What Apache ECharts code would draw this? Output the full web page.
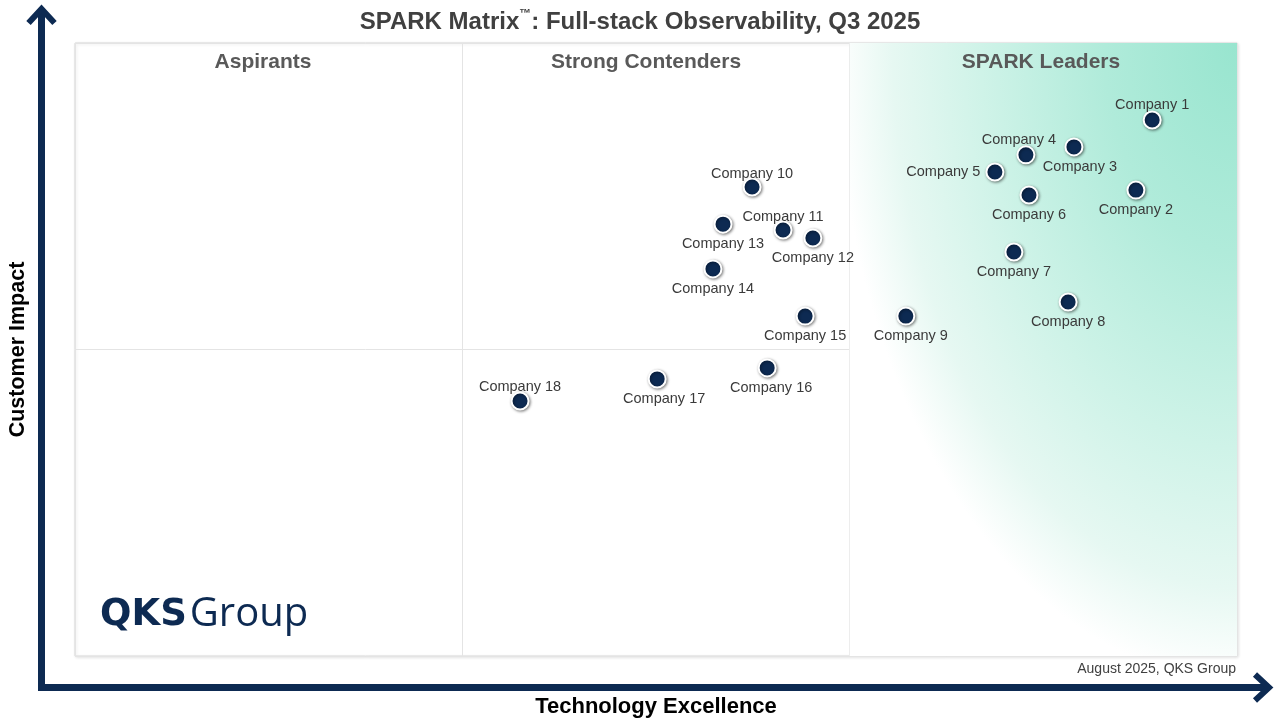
<!DOCTYPE html>
<html><head><meta charset="utf-8">
<script src="https://cdn.jsdelivr.net/npm/echarts@6/dist/echarts.min.js"></script>
<style>html,body{margin:0;padding:0;background:#fff}#c{width:1280px;height:720px}</style>
</head><body><div id="c"></div>
<script>
// ---- data ----
const companies = ['Company 1','Company 2','Company 3','Company 4','Company 5','Company 6','Company 7','Company 8','Company 9',
  'Company 10','Company 11','Company 12','Company 13','Company 14','Company 15','Company 16','Company 17','Company 18'];
const technologyExcellence = [2.781,2.739,2.579,2.455,2.375,2.463,2.424,2.564,2.145,1.748,1.828,1.905,1.673,1.647,1.885,1.787,1.503,1.149];
const customerImpact       = [1.749,1.520,1.661,1.635,1.579,1.504,1.318,1.155,1.109,1.530,1.390,1.364,1.409,1.263,1.109,0.940,0.904,0.832];
const quadrantNames = ['Aspirants','Strong Contenders','SPARK Leaders'];
const xRange = [0, 3];
const yRange = [0, 2];
const leaderZone = [[2, 2], [3, 0]];
const titleParts = ['SPARK Matrix', '™', ': Full-stack Observability, Q3 2025'];
const footnote = 'August 2025, QKS Group';

// ---- label layout (styling, not data) ----
const labelLayout = {
  'Company 1': {position:'top', distance:0, offset:[0,2]},
  'Company 3': {position:'bottom', offset:[6,0]},
  'Company 4': {position:'top', distance:0, offset:[-7,2]},
  'Company 5': {position:'left', distance:5},
  'Company 9': {position:'bottom', offset:[5,0]},
  'Company 10': {position:'top', distance:0, offset:[0,4]},
  'Company 11': {position:'top', distance:0, offset:[0,4]},
  'Company 16': {position:'bottom', offset:[4,0]},
  'Company 17': {position:'bottom', offset:[7,0]},
  'Company 18': {position:'top', distance:0, offset:[0,3]}
};

const NAVY = '#0d2a52';
const FONT = '"Liberation Sans", Arial, sans-serif';

const points = companies.map((n, i) => {
  const l = labelLayout[n] || {position:'bottom'};
  return {name: n, value: [technologyExcellence[i], customerImpact[i]], label: Object.assign({}, l)};
});

const chart = echarts.init(document.getElementById('c'));

const option = {
  backgroundColor: '#ffffff',
  animation: false,
  title: {
    left: 'center', top: 3,
    text: '{a|' + titleParts[0] + '}{s|' + titleParts[1] + '}{a|' + titleParts[2] + '}',
    textStyle: {
      rich: {
        a: {fontFamily: FONT, fontWeight: 'bold', fontSize: 24, color: '#404040', lineHeight: 28},
        s: {fontFamily: FONT, fontWeight: 'bold', fontSize: 12, color: '#404040', verticalAlign: 'top', lineHeight: 16}
      }
    }
  },
  grid: {
    left: 75, right: 43, top: 43, bottom: 64,
    outerBoundsMode: 'none', containLabel: false,
    show: true, backgroundColor: '#ffffff', borderColor: '#d9d9d9', borderWidth: 1,
    shadowColor: 'rgba(0,0,0,0.12)', shadowBlur: 3, shadowOffsetX: 1, shadowOffsetY: 1
  },
  xAxis: {
    type: 'value', min: xRange[0], max: xRange[1], interval: 1,
    name: 'Technology Excellence', nameLocation: 'middle', nameGap: 40,
    nameTextStyle: {fontFamily: FONT, fontWeight: 'bold', fontSize: 22, color: '#000'},
    axisLine: {show: false}, axisTick: {show: false}, axisLabel: {show: false},
    splitLine: {show: true, lineStyle: {color: '#e4e4e4', width: 1}}
  },
  yAxis: {
    type: 'value', min: yRange[0], max: yRange[1], interval: 1,
    name: 'Customer Impact', nameLocation: 'middle', nameGap: 46,
    nameTextStyle: {fontFamily: FONT, fontWeight: 'bold', fontSize: 21.5, color: '#000'},
    axisLine: {show: false}, axisTick: {show: false}, axisLabel: {show: false},
    splitLine: {show: true, lineStyle: {color: '#e4e4e4', width: 1}}
  },
  series: [
    {
      type: 'custom', z: 1, silent: true,
      data: [[leaderZone[0][0], leaderZone[0][1]]],
      renderItem: function (params, api) {
        const tl = api.coord(leaderZone[0]);
        const br = api.coord(leaderZone[1]);
        const w = br[0] - tl[0], h = br[1] - tl[1];
        return {
          type: 'rect', x: tl[0], y: tl[1], scaleX: 1, scaleY: h / w,
          shape: {x: 0, y: 0, width: w, height: w},
          style: {
            fill: {
              type: 'radial', x: 1, y: 0, r: 1.14,
              colorStops: [
                {offset: 0, color: '#98e5cf'},
                {offset: 0.3, color: '#b0ebda'},
                {offset: 0.58, color: '#cff3e8'},
                {offset: 0.78, color: '#e6f8f2'},
                {offset: 0.91, color: '#ffffff'},
                {offset: 1, color: '#ffffff'}
              ]
            }
          },
          silent: true
        };
      }
    },
    {
      type: 'scatter', z: 3,
      data: points,
      symbol: 'circle', symbolSize: 17,
      itemStyle: {
        color: NAVY, opacity: 1, borderColor: '#ffffff', borderWidth: 2,
        shadowColor: 'rgba(0,0,0,0.45)', shadowBlur: 3, shadowOffsetX: 1, shadowOffsetY: 1
      },
      label: {
        show: true, formatter: '{b}', distance: 3,
        fontFamily: FONT, fontSize: 14.5, color: '#3a3a3a'
      },
      emphasis: {disabled: true}
    }
  ],
  graphic: [
    // axis arrows
    {type: 'polyline', z: 10, shape: {points: [[41.5, 10], [41.5, 687.5], [1268, 687.5]]},
      style: {stroke: NAVY, lineWidth: 7, fill: null, lineJoin: 'miter'}},
    {type: 'polyline', z: 10, shape: {points: [[28.5, 23], [41.5, 9], [54.5, 23]]},
      style: {stroke: NAVY, lineWidth: 6, fill: null, lineJoin: 'miter'}},
    {type: 'polyline', z: 10, shape: {points: [[1255, 674.5], [1269, 687.5], [1255, 700.5]]},
      style: {stroke: NAVY, lineWidth: 6, fill: null, lineJoin: 'miter'}},
    // quadrant headings
    {type: 'text', z: 10, x: 263, y: 62, style: {text: quadrantNames[0], align: 'center', verticalAlign: 'middle', fontFamily: FONT, fontWeight: 'bold', fontSize: 21, fill: '#595959'}},
    {type: 'text', z: 10, x: 646, y: 62, style: {text: quadrantNames[1], align: 'center', verticalAlign: 'middle', fontFamily: FONT, fontWeight: 'bold', fontSize: 21, fill: '#595959'}},
    {type: 'text', z: 10, x: 1041, y: 62, style: {text: quadrantNames[2], align: 'center', verticalAlign: 'middle', fontFamily: FONT, fontWeight: 'bold', fontSize: 21, fill: '#595959'}},
    // footnote
    {type: 'text', z: 10, x: 1236, y: 669, style: {text: footnote, align: 'right', verticalAlign: 'middle', fontFamily: FONT, fontSize: 14, fill: '#404040'}},
    // logo
    {type: 'text', z: 10, x: 100, y: 615, style: {
      text: '{q|QKS}{g|Group}', align: 'left', verticalAlign: 'middle',
      rich: {
        q: {fontFamily: '"DejaVu Sans", sans-serif', fontWeight: 'bold', fontSize: 37, fill: NAVY, color: NAVY},
        g: {fontFamily: '"Open Sans", sans-serif', fontWeight: 400, fontSize: 40, fill: NAVY, color: NAVY, padding: [0, 0, 0, 3]}
      }
    }}
  ]
};
chart.setOption(option);
</script>
</body></html>
